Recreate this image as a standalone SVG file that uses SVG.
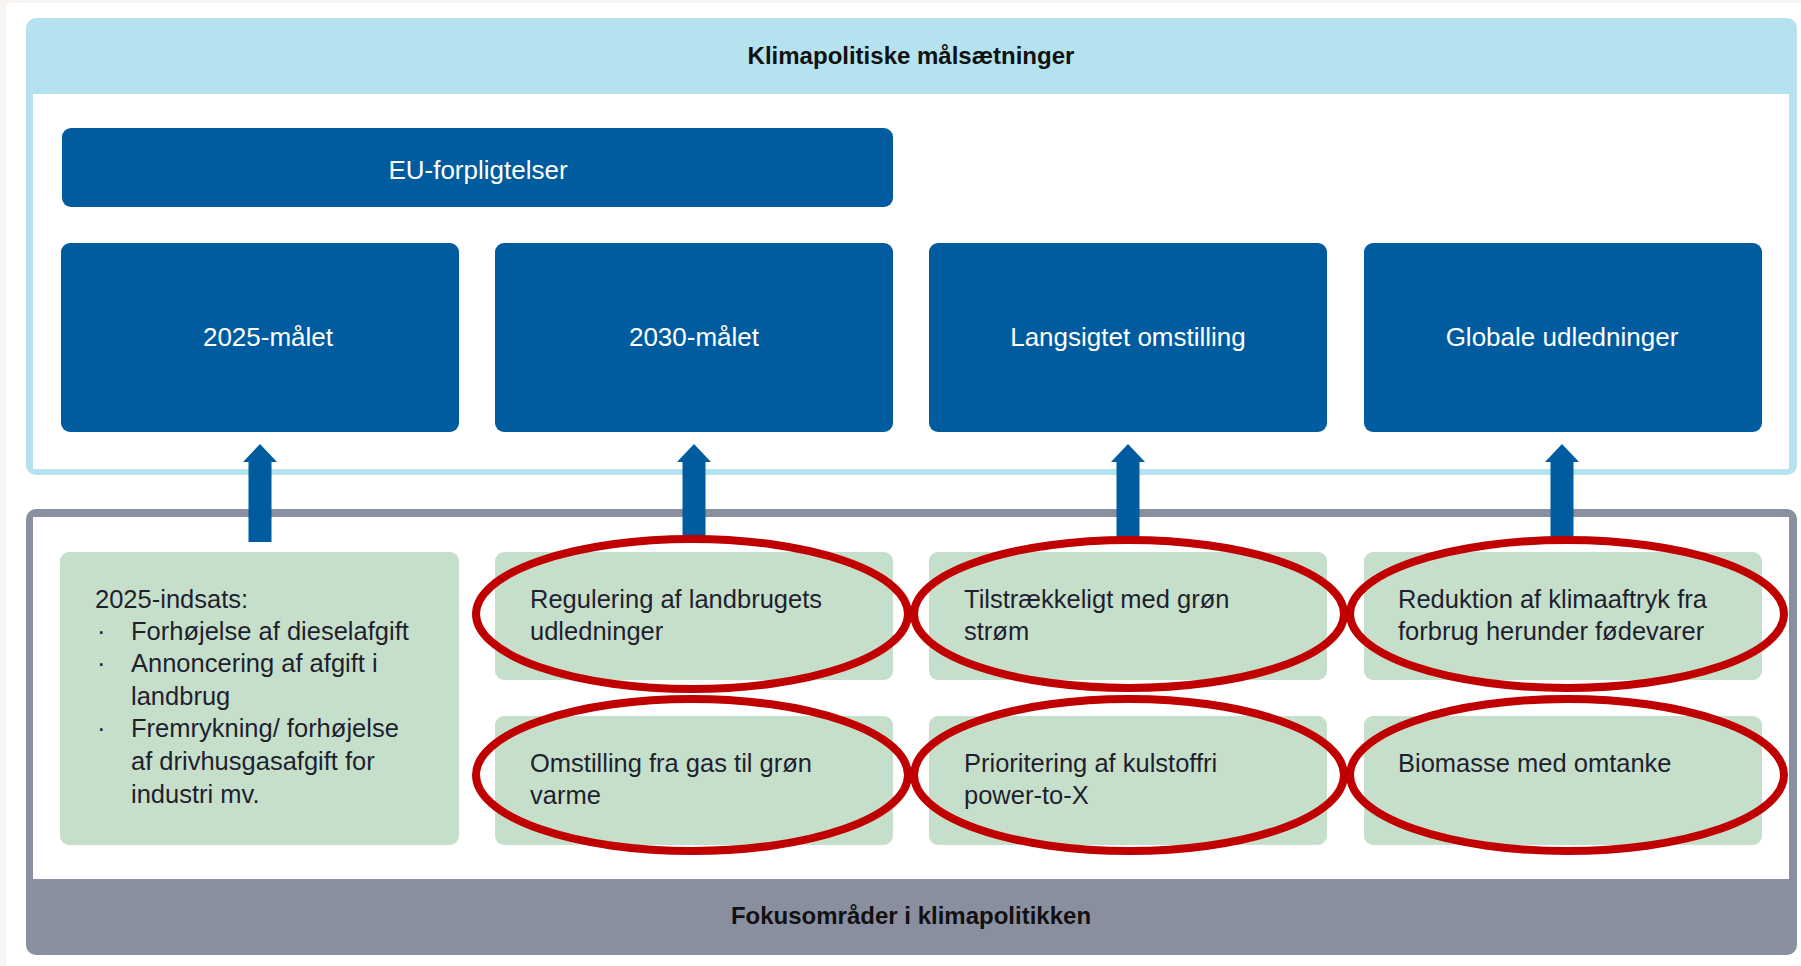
<svg xmlns="http://www.w3.org/2000/svg" width="1801" height="966" viewBox="0 0 1801 966">
<defs>
<style>
.goal{fill:#005c9e}
.focus{fill:#c6dfcb}
.wt{font-family:"Liberation Sans",Arial,sans-serif;font-size:26px;fill:#ffffff;text-anchor:middle}
.gt{font-family:"Liberation Sans",Arial,sans-serif;font-size:25.5px;fill:#1f1f2e}
.hd{font-family:"Liberation Sans",Arial,sans-serif;font-size:24px;font-weight:bold;fill:#111111;text-anchor:middle}
.ring{fill:none;stroke:#c00000;stroke-width:8}
.arrow{fill:#005c9e}
</style>
<path id="arr" d="M0,0 L17,18 L11.5,18 L11.5,98 L-11.5,98 L-11.5,18 L-17,18 Z"/>
</defs>
<rect x="0" y="0" width="1801" height="966" fill="#f7f4f1"/>
<rect x="6" y="3" width="1795" height="963" fill="#ffffff"/>

<g id="frame-top">
<rect x="26" y="18" width="1771" height="457" rx="10" fill="#b5e2ef"/>
<rect x="33" y="94" width="1756" height="375" fill="#ffffff"/>
<text class="hd" x="911" y="64">Klimapolitiske målsætninger</text>
</g>

<g id="frame-bottom">
<rect x="26" y="509" width="1771" height="446" rx="10" fill="#8a8f9f"/>
<rect x="33" y="517" width="1756" height="362" fill="#ffffff"/>
<text class="hd" x="911" y="924">Fokusområder i klimapolitikken</text>
</g>

<g id="eu">
<rect class="goal" x="62" y="128" width="831" height="79" rx="9"/>
<text class="wt" x="478" y="179">EU-forpligtelser</text>
</g>

<g id="goal-2025">
<rect class="goal" x="61" y="243" width="398" height="189" rx="9"/>
<text class="wt" x="268" y="346">2025-målet</text>
</g>
<g id="goal-2030">
<rect class="goal" x="495" y="243" width="398" height="189" rx="9"/>
<text class="wt" x="694" y="346">2030-målet</text>
</g>
<g id="goal-long">
<rect class="goal" x="929" y="243" width="398" height="189" rx="9"/>
<text class="wt" x="1128" y="346">Langsigtet omstilling</text>
</g>
<g id="goal-global">
<rect class="goal" x="1364" y="243" width="398" height="189" rx="9"/>
<text class="wt" x="1562" y="346">Globale udledninger</text>
</g>

<g id="focus-2025">
<rect class="focus" x="60" y="552" width="399" height="293" rx="9"/>
<text class="gt" x="95" y="608">2025-indsats:</text>
<text class="gt" x="97" y="640">·</text>
<text class="gt" x="131" y="640">Forhøjelse af dieselafgift</text>
<text class="gt" x="97" y="672">·</text>
<text class="gt" x="131" y="672">Annoncering af afgift i</text>
<text class="gt" x="131" y="705">landbrug</text>
<text class="gt" x="97" y="737">·</text>
<text class="gt" x="131" y="737">Fremrykning/ forhøjelse</text>
<text class="gt" x="131" y="770">af drivhusgasafgift for</text>
<text class="gt" x="131" y="803">industri mv.</text>
</g>

<g id="focus-landbrug">
<rect class="focus" x="495" y="552" width="398" height="128" rx="9"/>
<text class="gt" x="530" y="608">Regulering af landbrugets</text>
<text class="gt" x="530" y="640">udledninger</text>
</g>
<g id="focus-stroem">
<rect class="focus" x="929" y="552" width="398" height="128" rx="9"/>
<text class="gt" x="964" y="608">Tilstrækkeligt med grøn</text>
<text class="gt" x="964" y="640">strøm</text>
</g>
<g id="focus-forbrug">
<rect class="focus" x="1364" y="552" width="398" height="128" rx="9"/>
<text class="gt" x="1398" y="608">Reduktion af klimaaftryk fra</text>
<text class="gt" x="1398" y="640">forbrug herunder fødevarer</text>
</g>
<g id="focus-varme">
<rect class="focus" x="495" y="716" width="398" height="129" rx="9"/>
<text class="gt" x="530" y="772">Omstilling fra gas til grøn</text>
<text class="gt" x="530" y="804">varme</text>
</g>
<g id="focus-ptx">
<rect class="focus" x="929" y="716" width="398" height="129" rx="9"/>
<text class="gt" x="964" y="772">Prioritering af kulstoffri</text>
<text class="gt" x="964" y="804">power-to-X</text>
</g>
<g id="focus-biomasse">
<rect class="focus" x="1364" y="716" width="398" height="129" rx="9"/>
<text class="gt" x="1398" y="772">Biomasse med omtanke</text>
</g>

<g id="connectors">
<use href="#arr" class="arrow" x="260" y="444"/>
<use href="#arr" class="arrow" x="694" y="444"/>
<use href="#arr" class="arrow" x="1128" y="444"/>
<use href="#arr" class="arrow" x="1562" y="444"/>
</g>

<g id="highlights">
<ellipse class="ring" cx="692" cy="614" rx="216" ry="75"/>
<ellipse class="ring" cx="692" cy="775" rx="216" ry="76"/>
<ellipse class="ring" cx="1129" cy="614" rx="215" ry="74"/>
<ellipse class="ring" cx="1129" cy="775" rx="215" ry="76"/>
<ellipse class="ring" cx="1567" cy="614" rx="217" ry="74"/>
<ellipse class="ring" cx="1567" cy="775" rx="217" ry="76"/>
</g>
</svg>
